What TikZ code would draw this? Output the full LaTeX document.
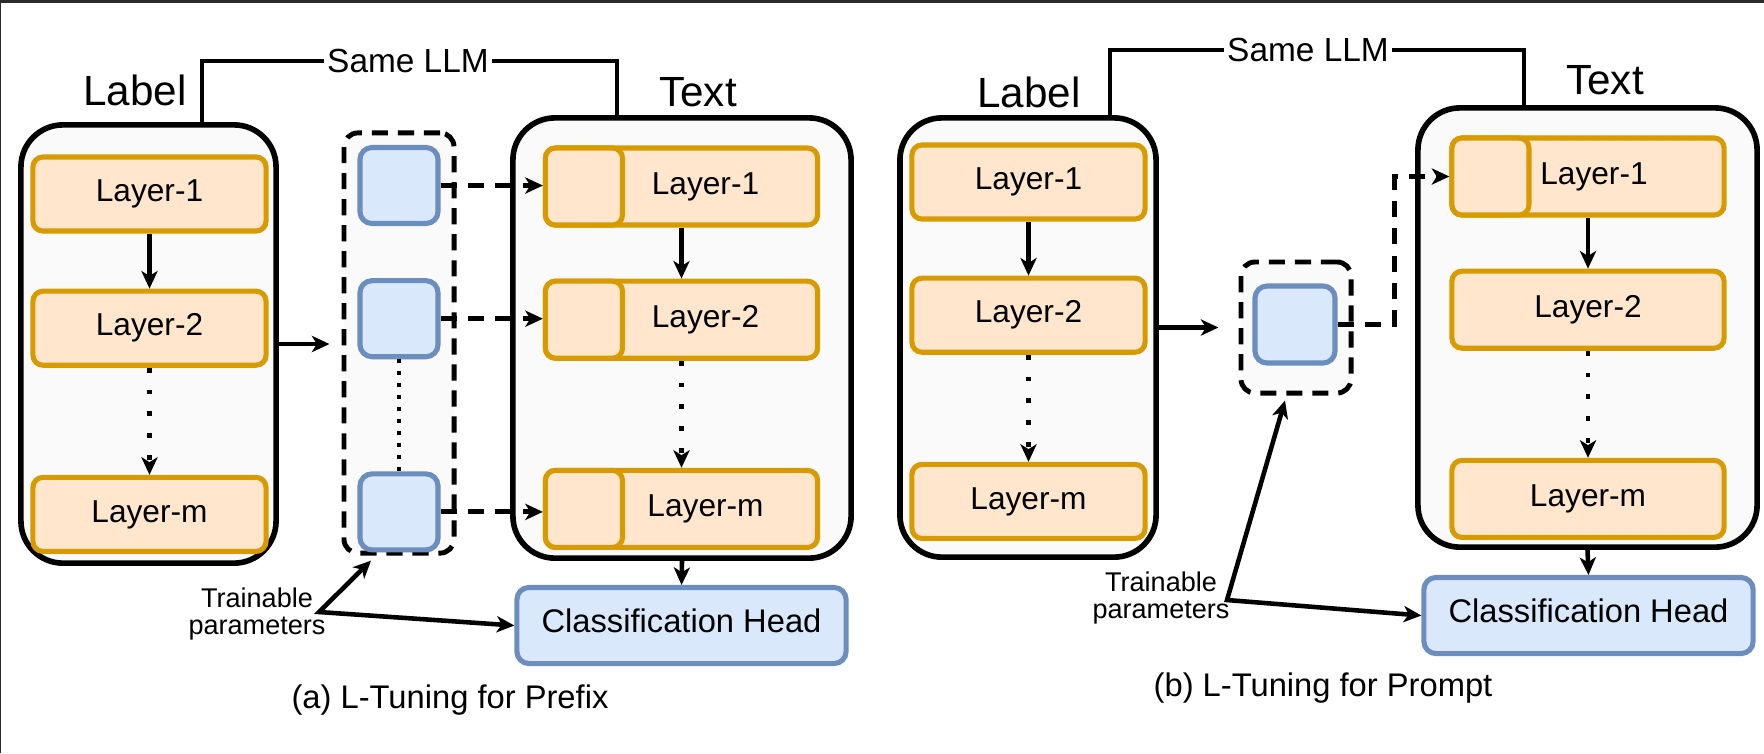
\documentclass[tikz,border=0pt]{standalone}
\usepackage{fontspec}
\setmainfont{Liberation Sans}
\usetikzlibrary{arrows.meta, positioning, calc}

\definecolor{orangeline}{HTML}{D79B00}
\definecolor{orangefill}{HTML}{FFE6CC}
\definecolor{blueline}{HTML}{6C8EBF}
\definecolor{bluefill}{HTML}{DAE8FC}
\definecolor{boxfill}{HTML}{FAFAFA}
\definecolor{framegray}{HTML}{2B2B2B}

\begin{document}
\begin{tikzpicture}[
            > = {Stealth[length=5pt, width=4.6pt, inset=1.4pt]}, % arrow head style
            x = 0.01cm, y = -0.01cm, % one unit per pixel, y pointing down
            line width = 1.3pt % line style
        ]

        \tikzstyle{model}=[draw = black, line width = 1.6pt, fill = boxfill,
            rounded corners = 0.42cm, inner sep = 0pt]
        \tikzstyle{layer}=[draw = orangeline, fill = orangefill, line width = 1.45pt,
            rounded corners = 0.1cm, inner sep = 0pt, minimum height = 0.74cm,
            minimum width = 2.33cm, font = \fontsize{9}{10}\selectfont]
        \tikzstyle{tlayer}=[layer, minimum width = 2.72cm, minimum height = 0.77cm]
        \tikzstyle{slot}=[layer, minimum width = 0.77cm, minimum height = 0.77cm, anchor = west]
        \tikzstyle{param}=[draw = blueline, fill = bluefill, line width = 1.45pt,
            rounded corners = 0.12cm, minimum width = 0.78cm, minimum height = 0.76cm]
        \tikzstyle{pool}=[draw = black, line width = 1.4pt, fill = boxfill,
            dash pattern = on 4.6pt off 2.8pt, rounded corners = 0.14cm]
        \tikzstyle{head}=[param, minimum width = 3.29cm, minimum height = 0.76cm,
            text depth = 3pt, font = \fontsize{9.3}{11}\selectfont]
        \tikzstyle{title}=[font = \fontsize{12}{14}\selectfont]
        \tikzstyle{same}=[fill = white, inner sep = 1pt, font = \fontsize{9.5}{11}\selectfont]
        \tikzstyle{note}=[align = center, inner sep = 0pt, font = \fontsize{7.7}{7.8}\selectfont]
        \tikzstyle{caption}=[font = \fontsize{9.3}{11}\selectfont]
        \tikzstyle{dasharrow}=[->, line width = 1.4pt, dash pattern = on 4.6pt off 3.2pt]
        \tikzstyle{dotarrow}=[->, dash pattern = on 1.4pt off 4.8pt]

        \useasboundingbox (0,0) rectangle (1764,753);
        \fill[framegray] (0,0) rectangle (1764,3);
        \fill[framegray] (0,0) rectangle (1.5,753);

        % (a) prefix
        \node[model, minimum width = 2.55cm, minimum height = 4.38cm] (lblA) at (148.5,344) {};
        \node[model, minimum width = 3.38cm, minimum height = 4.40cm] (txtA) at (682,338) {};
        \node[pool, minimum width = 1.10cm, minimum height = 4.20cm] (padA) at (399,343) {};

        \node[title] at (135,90) {Label};
        \node[title] at (698,92) {Text};

        \node[layer] (lA1) at (149.5,194) {Layer-1};
        \node[layer] (lA2) [below = 0.55cm of lA1] {Layer-2};
        \node[layer] (lAm) [below = 1.07cm of lA2] {Layer-m};

        \node[tlayer] (tA1) at (681.5,186.5) {\hspace{0.48cm}Layer-1};
        \node[tlayer] (tA2) [below = 0.51cm of tA1] {\hspace{0.48cm}Layer-2};
        \node[tlayer] (tAm) [below = 1.07cm of tA2] {\hspace{0.48cm}Layer-m};
        \node[slot] (sA1) at (tA1.west) {};
        \node[slot] (sA2) at (tA2.west) {};
        \node[slot] (sAm) at (tAm.west) {};

        \node[param] (pA1) at (399,185.5) {};
        \node[param] (pA2) [below = 0.52cm of pA1] {};
        \node[param] (pA3) [below = 1.12cm of pA2] {};

        \node[head] (headA) at (681.5,625.5) {Classification Head};

        \coordinate (topA) at (408,61);
        \draw ($(lblA.north)+(53.5,0)$) |- (topA) -| ($(txtA.north)+(-65,0)$);
        \node[same] at (topA) {Same LLM};

        \path[->] (lA1) edge (lA2);
        \path[dotarrow] (lA2) edge (lAm);
        \path[->] (tA1) edge (tA2);
        \path[dotarrow] (tA2) edge (tAm);
        \draw[dash pattern = on 1.2pt off 2.2pt] (pA2) -- (pA3);
        \draw[->, shorten > = 0.12cm] (lblA.east) -- (lblA.east -| padA.west);
        \draw[dasharrow] (pA1.east) -- (pA1.east -| sA1.west);
        \draw[dasharrow] (pA2.east) -- (pA2.east -| sA2.west);
        \draw[dasharrow] (pA3.east) -- (pA3.east -| sAm.west);
        \draw[->] (txtA.south) -- (headA.north);

        \node[note] (trainA) at (257,614) {Trainable\\parameters};
        \coordinate (trainAc) at (319,612);
        \draw[<->] ($(padA.south)+(-28,5)$) -- (trainAc) -- (headA.west);

        \node[caption] at (450,700) {(a) L-Tuning for Prefix};

        % (b) prompt
        \node[model, minimum width = 2.56cm, minimum height = 4.39cm] (lblB) at (1028,337.5) {};
        \node[model, minimum width = 3.39cm, minimum height = 4.39cm] (txtB) at (1587.5,327.5) {};
        \node[pool, minimum width = 1.10cm, minimum height = 1.31cm] (padB) at (1296,327.5) {};

        \node[title] at (1029,92) {Label};
        \node[title] at (1605,80) {Text};

        \node[layer] (lB1) at (1028.5,182) {Layer-1};
        \node[layer] (lB2) [below = 0.54cm of lB1] {Layer-2};
        \node[layer] (lBm) [below = 1.07cm of lB2] {Layer-m};

        \node[tlayer] (tB1) at (1588,176.5) {\hspace{0.12cm}Layer-1};
        \node[tlayer] (tB2) [below = 0.51cm of tB1] {Layer-2};
        \node[tlayer] (tBm) [below = 1.07cm of tB2] {Layer-m};
        \node[slot] (sB1) at (tB1.west) {};

        \node[param, minimum width = 0.80cm, minimum height = 0.77cm] (pB) at (1295,324.5) {};

        \node[head] (headB) at (1588.5,615.5) {Classification Head};

        \coordinate (topB) at (1308,50);
        \draw ($(lblB.north)+(82,0)$) |- (topB) -| ($(txtB.north)+(-63.5,0)$);
        \node[same] at (topB) {Same LLM};

        \path[->] (lB1) edge (lB2);
        \path[dotarrow] (lB2) edge (lBm);
        \path[->] (tB1) edge (tB2);
        \path[dotarrow] (tB2) edge (tBm);
        \draw[->, shorten > = 0.2cm] (lblB.east |- padB.west) -- (padB.west);
        \draw[dasharrow] (pB.east) -- ++(57,0) |- (sB1.west);
        \draw[->] (txtB.south) -- (headB.north);

        \node[note] (trainB) at (1161,598) {Trainable\\parameters};
        \coordinate (trainBc) at (1227,600);
        \draw[<->] ($(padB.south)+(-11,5)$) -- (trainBc) -- (headB.west);

        \node[caption] at (1323,688) {(b) L-Tuning for Prompt};

    \end{tikzpicture}
\end{document}
